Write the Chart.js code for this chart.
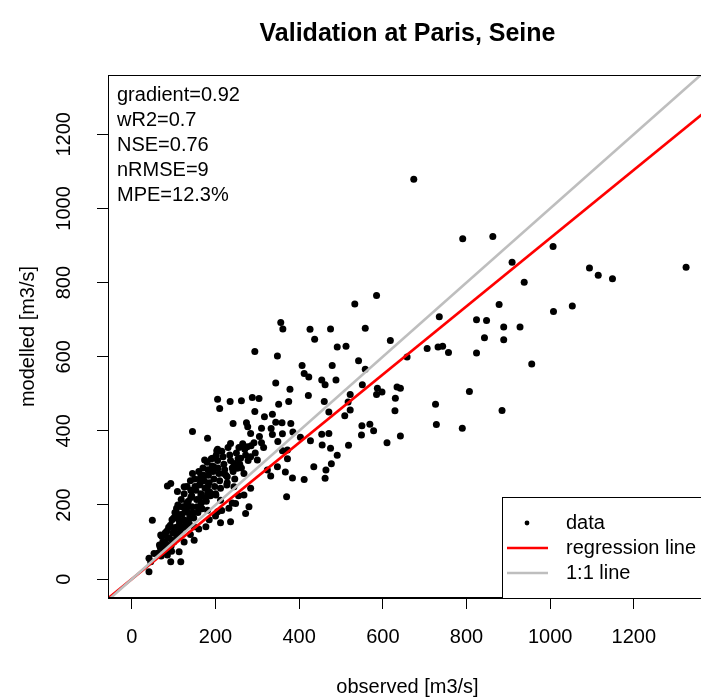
<!DOCTYPE html>
<html>
<head>
<meta charset="utf-8">
<script src="https://cdn.jsdelivr.net/npm/chart.js@4.4.1/dist/chart.umd.min.js"></script>
<style>
html,body{margin:0;padding:0;overflow:hidden;background:#fff;}
#wrap{width:720px;height:700px;}
</style>
</head>
<body>
<div id="wrap"><canvas id="c" width="720" height="700"></canvas></div>
<script>
// ---------- data ----------
const titleText = 'Validation at Paris, Seine';
const xAxisTitle = 'observed [m3/s]';
const yAxisTitle = 'modelled [m3/s]';
const statsLines = ['gradient=0.92', 'wR2=0.7', 'NSE=0.76', 'nRMSE=9', 'MPE=12.3%'];
const legendLabels = ['data', 'regression line', '1:1 line'];
const xTickValues = [0, 200, 400, 600, 800, 1000, 1200];
const yTickValues = [0, 200, 400, 600, 800, 1000, 1200];
const xLimits = [-57, 1375];
const yLimits = [-51, 1360];
const regressionSlope = 0.92;
const identitySlope = 1;

const observed = [
  674, 791, 863, 1007, 909, 938, 1094, 1115, 1149, 1325,
  878, 1008, 1053, 735, 824, 848, 889, 928, 843, 889,
  706, 732, 743, 757, 824, 658, 956, 642, 807, 726,
  885, 728, 790, 642,
  585, 533, 356, 361, 426, 475, 558, 437, 618, 294,
  348, 491, 512, 407, 542, 479, 412, 423, 558, 454,
  462, 488, 378, 344, 551, 587, 598, 585, 634, 630,
  629, 610, 205, 210, 235, 262, 288, 304, 351, 375,
  422, 460, 294, 336, 317, 471, 509, 522, 522, 517,
  242, 274, 277, 344, 359, 380, 284, 310, 333, 336,
  360, 385, 403, 427, 454, 471, 455, 475, 491, 477,
  464, 462, 435, 412, 384, 367, 372, 550, 549, 569,
  578, 518, 370, 349, 372, 360, 181, 203, 236, 256,
  276, 292, 310, 284, 300, 260, 244, 174, 193, 196,
  220, 252, 268, 324, 332, 348, 227, 244, 181, 201,
  268, 284, 248, 280, 212,
  145, 165, 93, 85, 109, 125, 107, 134, 165, 181,
  232, 236, 212, 205, 272, 49, 69, 53, 45, 41,
  149, 149, 69, 93, 113, 117, 85, 181,
  205, 145, 141, 161, 228, 41, 177,
  62, 66, 70, 74, 76, 80, 82, 86, 88, 90,
  94, 96, 98, 100, 103, 106, 108, 110, 112, 115,
  118, 120, 122, 125, 127, 130, 132, 135, 138, 140,
  143, 146, 150, 153, 156, 160, 163, 166, 170, 173,
  176, 180, 183, 186, 190, 194, 198, 202, 206, 210,
  215, 220, 225, 230, 236, 242, 250, 258, 265, 272,
  285, 295, 305, 315,
  95, 125, 140, 160, 185, 200, 215, 240, 255,
  68, 72, 78, 84, 86, 92, 96, 100, 102, 106,
  110, 114, 117, 120, 124, 128, 131, 134, 137, 141,
  144, 148, 151, 155, 158, 162, 165, 168, 172, 175,
  178, 182, 185, 188, 192, 196, 200, 205, 208, 212,
  218, 222, 228, 234, 240, 246, 254, 262, 270, 278
];
const modelled = [
  1079, 918, 924, 897, 855, 801, 839, 820, 810, 841,
  741, 722, 737, 708, 700, 698, 680, 680, 651, 646,
  622, 626, 628, 611, 610, 599, 580, 515, 506, 472,
  455, 417, 407, 386,
  765, 742, 692, 675, 674, 675, 677, 647, 644, 614,
  602, 626, 628, 576, 589, 576, 555, 545, 566, 537,
  524, 537, 512, 529, 524, 515, 505, 498, 518, 488,
  454, 368, 485, 460, 479, 481, 490, 487, 472, 479,
  495, 479, 452, 445, 438, 451, 441, 498, 456, 478,
  420, 422, 411, 423, 422, 420, 393, 407, 406, 390,
  392, 397, 383, 373, 391, 393, 362, 353, 334, 311,
  294, 272, 303, 269, 273, 289, 325, 414, 389, 418,
  400, 361, 222, 371, 348, 346, 380, 346, 366, 355,
  357, 368, 368, 330, 321, 326, 312, 321, 326, 303,
  285, 299, 285, 294, 278, 303, 254, 249, 249, 227,
  227, 245, 204, 195, 213,
  398, 281, 258, 251, 236, 249, 191, 195, 222, 231,
  191, 155, 152, 182, 177, 159, 119, 69, 47, 20,
  105, 141, 87, 47, 74, 47, 65, 186,
  350, 285, 240, 254, 276, 56, 141,
  70, 92, 62, 100, 80, 125, 95, 78, 140, 110,
  90, 160, 125, 100, 180, 140, 110, 200, 160, 125,
  215, 175, 140, 230, 190, 150, 250, 210, 165, 265,
  225, 180, 270, 240, 195, 290, 255, 205, 300, 265,
  220, 315, 280, 235, 325, 290, 250, 335, 300, 265,
  345, 310, 280, 355, 320, 290, 340, 310, 365, 335,
  360, 340, 385, 355,
  75, 100, 120, 135, 160, 170, 185, 205, 225,
  85, 115, 100, 130, 112, 145, 105, 165, 135, 120,
  175, 150, 135, 195, 160, 140, 205, 180, 150, 220,
  195, 165, 250, 215, 180, 270, 230, 190, 280, 245,
  210, 295, 260, 225, 305, 270, 230, 320, 285, 245,
  330, 295, 260, 335, 300, 270, 325, 300, 350, 320
];

// ---------- chart ----------
const FONT = '"Liberation Sans", Arial, Helvetica, sans-serif';
const pointColor = '#000000';
const regColor = '#ff0000';
const oneColor = '#bebebe';

const scatterData = observed.map((v, i) => ({x: v, y: modelled[i]}));
const lineThrough = slope => xLimits.map(v => ({x: v, y: slope * v}));

const decor = {
  id: 'decor',
  afterDraw(chart) {
    const ctx = chart.ctx;
    const a = chart.chartArea;
    ctx.save();
    // plot box
    ctx.strokeStyle = '#000';
    ctx.lineWidth = 1;
    ctx.strokeRect(a.left + 0.5, a.top + 0.5, a.right - a.left - 1, a.bottom - a.top - 1);
    // title
    ctx.fillStyle = '#000';
    ctx.textAlign = 'center';
    ctx.textBaseline = 'alphabetic';
    ctx.font = 'bold 25px ' + FONT;
    ctx.fillText(titleText, (a.left + a.right) / 2, 41);
    // statistics
    ctx.font = '20px ' + FONT;
    ctx.textAlign = 'left';
    statsLines.forEach((t, i) => ctx.fillText(t, a.left + 9, a.top + 26 + i * 25));
    // legend
    const lw = 205, lh = 101;
    const lx = a.right - lw, ly = a.bottom - lh;
    ctx.fillStyle = '#fff';
    ctx.fillRect(lx, ly, lw, lh);
    ctx.strokeStyle = '#000';
    ctx.lineWidth = 1;
    ctx.strokeRect(lx + 0.5, ly + 0.5, lw, lh);
    const ds = chart.data.datasets;
    const rows = [ly + 26, ly + 51, ly + 76];
    ctx.fillStyle = ds[0].backgroundColor;
    ctx.beginPath();
    ctx.arc(lx + 25, rows[0], 2.4, 0, Math.PI * 2);
    ctx.fill();
    [1, 2].forEach(k => {
      ctx.strokeStyle = ds[k].borderColor;
      ctx.lineWidth = ds[k].borderWidth;
      ctx.beginPath();
      ctx.moveTo(lx + 5, rows[k]);
      ctx.lineTo(lx + 46, rows[k]);
      ctx.stroke();
    });
    ctx.fillStyle = '#000';
    ctx.font = '20px ' + FONT;
    ctx.textAlign = 'left';
    ctx.textBaseline = 'middle';
    legendLabels.forEach((t, i) => ctx.fillText(t, lx + 64, rows[i]));
    ctx.restore();
  }
};

new Chart(document.getElementById('c'), {
  type: 'scatter',
  data: {
    datasets: [
      {
        label: legendLabels[0], data: scatterData, order: 3,
        backgroundColor: pointColor, borderColor: pointColor, borderWidth: 0,
        pointRadius: 3.5, pointHoverRadius: 3.5
      },
      {
        type: 'line', label: legendLabels[1], data: lineThrough(regressionSlope), order: 2,
        borderColor: regColor, backgroundColor: regColor, borderWidth: 2.6,
        pointRadius: 0, fill: false, clip: 0
      },
      {
        type: 'line', label: legendLabels[2], data: lineThrough(identitySlope), order: 1,
        borderColor: oneColor, backgroundColor: oneColor, borderWidth: 2.6,
        pointRadius: 0, fill: false, clip: 0
      }
    ]
  },
  options: {
    responsive: false,
    animation: false,
    events: [],
    layout: {padding: {left: 0, top: 75, right: 13, bottom: 0}},
    plugins: {legend: {display: false}, title: {display: false}, tooltip: {enabled: false}},
    scales: {
      x: {
        type: 'linear', position: 'bottom',
        min: xLimits[0], max: xLimits[1],
        afterBuildTicks: s => { s.ticks = xTickValues.map(v => ({value: v})); },
        afterFit: s => { s.height = 102; },
        ticks: {
          color: '#000', font: {family: FONT, size: 20}, padding: 16,
          autoSkip: false, maxRotation: 0, minRotation: 0,
          callback: v => String(v)
        },
        grid: {drawOnChartArea: false, drawTicks: true, tickLength: 11, color: '#000', lineWidth: 1},
        border: {display: true, color: '#000', width: 1},
        title: {display: true, text: xAxisTitle, color: '#000', font: {family: FONT, size: 20}, padding: {top: 0, bottom: 1}}
      },
      y: {
        type: 'linear', position: 'left',
        min: yLimits[0], max: yLimits[1],
        afterBuildTicks: s => { s.ticks = yTickValues.map(v => ({value: v})); },
        afterFit: s => { s.width = 108; },
        ticks: {
          color: '#000', font: {family: FONT, size: 20}, padding: 10,
          autoSkip: false, minRotation: 90, maxRotation: 90, crossAlign: 'center',
          callback: v => String(v)
        },
        grid: {drawOnChartArea: false, drawTicks: true, tickLength: 11, color: '#000', lineWidth: 1},
        border: {display: true, color: '#000', width: 1},
        title: {display: true, text: yAxisTitle, color: '#000', font: {family: FONT, size: 20}, padding: {top: 16, bottom: 0}}
      }
    }
  },
  plugins: [decor]
});
</script>
</body>
</html>
